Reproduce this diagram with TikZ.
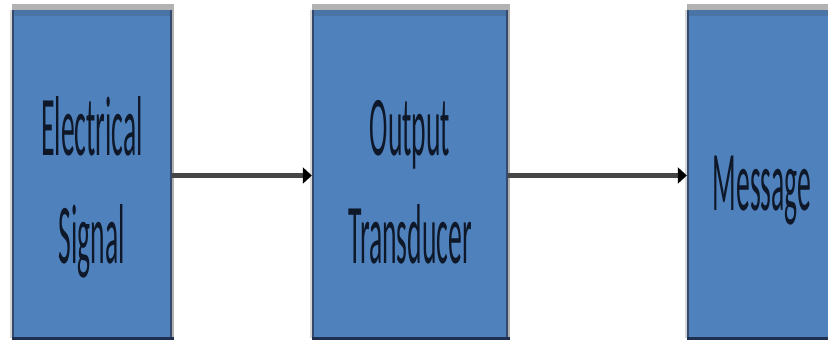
\documentclass[tikz,border=0pt]{standalone}
\usepackage{fontspec}
\setmainfont{Carlito}
\usetikzlibrary{arrows.meta}

\definecolor{boxblue}{HTML}{4F81BD}
\definecolor{bandblue}{HTML}{4A74A6}
\definecolor{edgedark}{HTML}{34496C}
\definecolor{edgegray}{HTML}{B2B2B2}
\definecolor{edgelight}{HTML}{D6D6D6}
\definecolor{bottomdark}{HTML}{1F2F4F}
\definecolor{textdark}{HTML}{0E1828}
\definecolor{linegray}{HTML}{464646}

% condensed, multi-line box caption; #2 lifts the first baseline off the box centre
\newcommand\squeezed[2]{\raisebox{#2}[0pt][0pt]{\scalebox{0.325}[1]{\begin{tabular}[t]{@{}c@{}}#1\end{tabular}}}}

\tikzset{
  block/.style={rectangle, fill=boxblue, inner sep=0pt, minimum height=328pt,
                text=textdark, font=\fontsize{85}{108}\selectfont},
  flow/.style={draw=linegray, line width=5pt,
               -{Triangle[length=9pt,width=16pt,color=black,fill=black]}},
}

\begin{document}
\begin{tikzpicture}[x=1pt,y=-1pt]
  \useasboundingbox (0,0) rectangle (828,340);
  \clip (0,0) rectangle (828,340);

  % blocks
  \node[block, minimum width=160pt] (b1) at (92,174)  {\squeezed{Electrical\\Signal}{19pt}};
  \node[block, minimum width=196pt] (b2) at (410,174) {\squeezed{Output\\Transducer}{19pt}};
  \node[block, minimum width=150pt] (b3) at (762,174) {\squeezed{Message}{-36pt}};

  % frame shading around each block
  \foreach \b in {b1,b2,b3}{
    \fill[edgegray]  ([yshift=6pt]\b.north west) rectangle ([xshift=2pt]\b.north east);
    \fill[bandblue]  (\b.north west) rectangle ([yshift=-6pt]\b.north east);
    \fill[edgelight] ([xshift=-2pt]\b.north west) rectangle (\b.south west);
    \fill[edgedark]  (\b.north west) rectangle ([xshift=2pt]\b.south west);
    \fill[edgedark]  ([xshift=-2pt]\b.north east) rectangle (\b.south east);
    \fill[edgegray]  (\b.north east) rectangle ([xshift=2pt]\b.south east);
    \fill[bottomdark]([yshift=1pt]\b.south west) rectangle ([yshift=-2pt,xshift=2pt]\b.south east);
  }

  % connectors
  \draw[flow] ([yshift=-1.5pt]b1.east) -- ([yshift=-1.5pt]b2.west);
  \draw[flow] ([yshift=-1.5pt]b2.east) -- ([yshift=-1.5pt]b3.west);
\end{tikzpicture}
\end{document}
